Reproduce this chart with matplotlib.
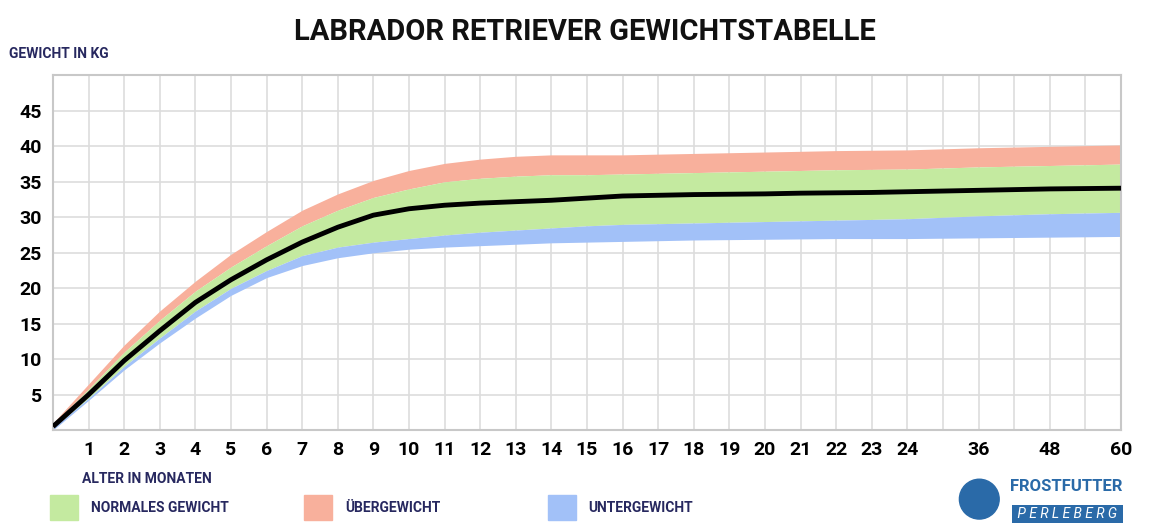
import matplotlib
matplotlib.use("Agg")
import matplotlib.pyplot as plt
import matplotlib.patches as mpatches

# Positionen auf der x-Achse (gleichmaessige Einheiten), Beschriftungen
x_pos = list(range(0, 25)) + [26, 28, 30]
tick_pos = list(range(1, 25)) + [26, 28, 30]
tick_labels = [str(m) for m in range(1, 25)] + ["36", "48", "60"]

# Gewichtswerte (kg)
ueber_oben = [1, 6.5, 12, 16.8, 21, 24.8, 28, 31, 33.3, 35.2, 36.6, 37.6, 38.2, 38.6, 38.8,
              38.8, 38.8, 38.9, 39, 39.1, 39.2, 39.3, 39.4, 39.45, 39.5, 39.8, 40, 40.2]
normal_oben = [0.8, 5.8, 11, 15.5, 19.6, 23, 26, 28.8, 31, 32.8, 34, 35, 35.5, 35.8, 36,
               36, 36.1, 36.2, 36.3, 36.4, 36.5, 36.6, 36.7, 36.75, 36.8, 37.1, 37.3, 37.5]
mittel = [0.5, 5, 9.8, 14, 18, 21.2, 24, 26.5, 28.6, 30.3, 31.2, 31.7, 32, 32.2, 32.4,
          32.7, 33, 33.1, 33.2, 33.25, 33.3, 33.4, 33.45, 33.5, 33.6, 33.8, 34, 34.1]
normal_unten = [0.3, 4.5, 9, 13, 16.8, 20, 22.5, 24.6, 25.8, 26.5, 27, 27.5, 27.9, 28.2, 28.5,
                28.8, 29, 29.1, 29.2, 29.3, 29.4, 29.5, 29.6, 29.7, 29.8, 30.2, 30.5, 30.7]
unter_unten = [0, 4.2, 8.5, 12.3, 15.8, 19, 21.5, 23.2, 24.3, 25, 25.5, 25.8, 26, 26.2, 26.4,
               26.5, 26.6, 26.7, 26.8, 26.85, 26.9, 26.95, 27, 27, 27, 27.1, 27.2, 27.3]

green = "#c4eaa0"
red = "#f8b09c"
blue = "#a2c1f8"
navy = "#27285f"
font = "Roboto"

fig = plt.figure(figsize=(11.7, 5.31), dpi=100)
ax = fig.add_axes([0.0453, 0.19, 0.9128, 0.668])

# Gitter von Hand
for gx in range(0, 31):
    ax.axvline(gx, color="#dddddd", lw=1.2, zorder=0)
for gy in range(0, 51, 5):
    ax.axhline(gy, color="#dddddd", lw=1.2, zorder=0)

ax.fill_between(x_pos, normal_oben, ueber_oben, color=red, lw=0, zorder=1)
ax.fill_between(x_pos, normal_unten, normal_oben, color=green, lw=0, zorder=1)
ax.fill_between(x_pos, unter_unten, normal_unten, color=blue, lw=0, zorder=1)
ax.plot(x_pos, mittel, color="black", lw=3.5, solid_capstyle="butt", solid_joinstyle="round", zorder=3)

ax.set_xlim(0, 30)
ax.set_ylim(0, 50)
ax.set_xticks(tick_pos)
ax.set_xticklabels(tick_labels, fontsize=14, fontweight="bold", family=font)
ax.set_yticks(range(5, 50, 5))
ax.set_yticklabels([str(v) for v in range(5, 50, 5)], fontsize=14, fontweight="bold", family=font)
ax.tick_params(length=0, which="both", pad=8)
for s in ax.spines.values():
    s.set_color("#c8c8c8")
    s.set_linewidth(1.5)

fig.text(0.5, 0.925, "LABRADOR RETRIEVER GEWICHTSTABELLE", ha="center", fontsize=21,
         fontweight="bold", family=font, color="#111111")
fig.text(0.008, 0.89, "GEWICHT IN KG", fontsize=10, fontweight="bold", family=font, color=navy)
fig.text(0.07, 0.09, "ALTER IN MONATEN", fontsize=10, fontweight="bold", family=font, color=navy)

legend_items = [(0.043, green, "NORMALES GEWICHT"), (0.26, red, "ÜBERGEWICHT"), (0.468, blue, "UNTERGEWICHT")]
for x0, c, lab in legend_items:
    fig.patches.append(mpatches.Rectangle((x0, 0.02), 0.024, 0.048, color=c, transform=fig.transFigure))
    fig.text(x0 + 0.035, 0.044, lab, fontsize=10, fontweight="bold", family=font, color=navy, va="center")

# Logo als Text
fig.patches.append(mpatches.Ellipse((0.837, 0.06), 0.034, 0.075, color="#2a6aa8", transform=fig.transFigure))
fig.text(0.959, 0.075, "FROSTFUTTER", fontsize=12, fontweight="bold", family=font, color="#2a6aa8", ha="right")
fig.text(0.958, 0.025, " P E R L E B E R G ", fontsize=10, family=font, color="white", ha="right",
         style="italic", bbox=dict(facecolor="#2a6aa8", edgecolor="none", pad=1.5))

fig.savefig("out.png", dpi=100)
